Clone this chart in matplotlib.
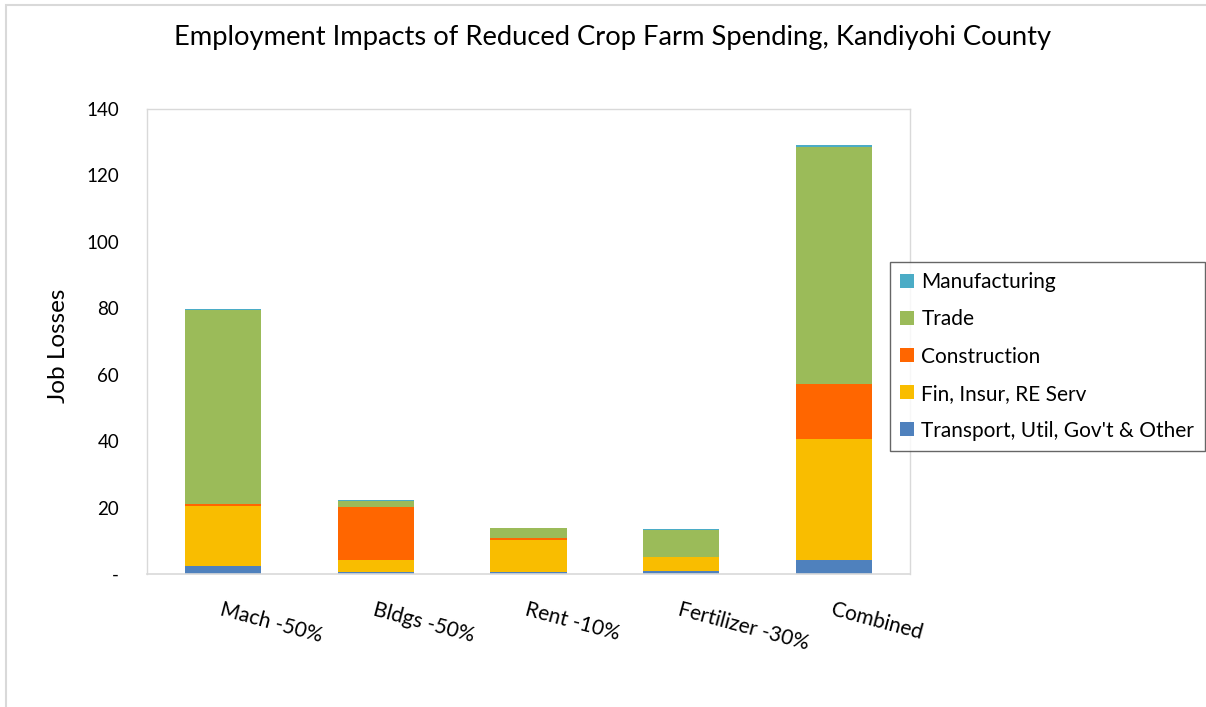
import numpy as np
import matplotlib.pyplot as plt
from matplotlib.patches import Rectangle
from matplotlib.ticker import FixedLocator, FixedFormatter

categories = ['Mach -50%', 'Bldgs -50%', 'Rent -10%', 'Fertilizer -30%', 'Combined']
transport = [2.3, 0.5, 0.5, 1.0, 4.3]
fin_insur = [18.1, 3.8, 9.8, 4.0, 36.2]
construction = [0.6, 16.0, 0.5, 0.1, 16.8]
trade = [58.6, 1.8, 2.9, 8.1, 71.3]
manufacturing = [0.3, 0.2, 0.2, 0.3, 0.5]

series = [
    ("Transport, Util, Gov't & Other", transport, '#4f81bd'),
    ('Fin, Insur, RE Serv', fin_insur, '#f9bd00'),
    ('Construction', construction, '#ff6600'),
    ('Trade', trade, '#9bbb59'),
    ('Manufacturing', manufacturing, '#4bacc6'),
]

y_ticks = [0, 20, 40, 60, 80, 100, 120, 140]
y_tick_labels = ['-', '20', '40', '60', '80', '100', '120', '140']

plt.rcParams['font.family'] = ['Lato', 'DejaVu Sans']

fig = plt.figure(figsize=(12.06, 7.07), dpi=100)
ax = fig.add_axes([147 / 1206, 1 - 574 / 707, 763 / 1206, 465 / 707])

# outer chart border (cropped at right/bottom in the reference)
fig.patches.append(Rectangle((6 / 1206, -0.1), 1.2, 1 - 4.5 / 707 + 0.1,
                             transform=fig.transFigure, fill=False,
                             edgecolor='#d9d9d9', linewidth=1.5))

x = np.arange(len(categories))
bottom = np.zeros(len(categories))
handles = {}
for name, vals, color in series:
    b = ax.bar(x, vals, width=0.5, bottom=bottom, color=color, label=name,
               edgecolor='none')
    handles[name] = b
    bottom += np.array(vals)

ax.set_xlim(-0.5, 4.5)
ax.set_ylim(0, 140)
ax.yaxis.set_major_locator(FixedLocator(y_ticks))
ax.yaxis.set_major_formatter(FixedFormatter(y_tick_labels))
ax.tick_params(axis='y', length=0, labelsize=13.5, pad=20)
ax.tick_params(axis='x', length=0)
ax.set_xticks(x)
ax.set_xticklabels(categories, rotation=-15, ha='left', va='top',
                   rotation_mode='anchor', fontsize=15)
for lbl in ax.get_xticklabels():
    lbl.set_y(-0.045)

for side in ['top', 'right', 'left']:
    ax.spines[side].set_color('#d9d9d9')
    ax.spines[side].set_linewidth(1)
ax.spines['bottom'].set_color('#d9d9d9')
ax.spines['bottom'].set_linewidth(1.2)

ax.set_ylabel('Job Losses', fontsize=17.5)
ax.yaxis.set_label_coords(-0.102, 0.49)

fig.text(0.508, 1 - 37 / 707, 'Employment Impacts of Reduced Crop Farm Spending, Kandiyohi County',
         ha='center', va='center', fontsize=19.7)

order = ['Manufacturing', 'Trade', 'Construction', 'Fin, Insur, RE Serv',
         "Transport, Util, Gov't & Other"]
leg = fig.legend([handles[n] for n in order], order,
                 loc='upper left', bbox_to_anchor=(890 / 1206, 1 - 262 / 707),
                 fontsize=15, frameon=True, fancybox=False,
                 handlelength=0.65, handleheight=0.65, handletextpad=0.35,
                 labelspacing=0.82, borderpad=0.5, borderaxespad=0)
leg.get_frame().set_edgecolor('#404040')
leg.get_frame().set_linewidth(1)

fig.savefig('out.png', dpi=100, facecolor='white')
